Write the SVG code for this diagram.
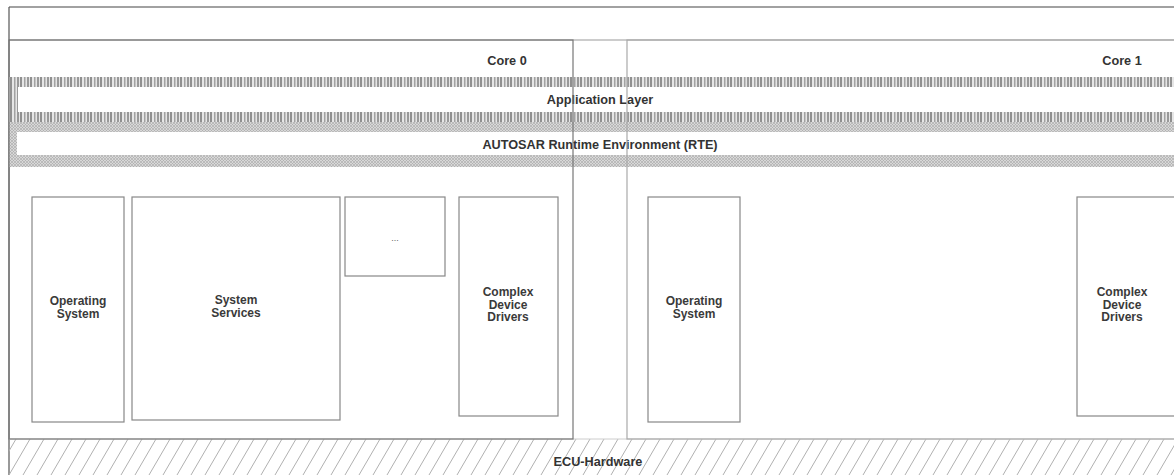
<svg xmlns="http://www.w3.org/2000/svg" width="1174" height="475" viewBox="0 0 1174 475">
<style>
.lbl{font-family:"Liberation Sans",Arial,sans-serif;font-size:12.7px;font-weight:bold;fill:#333;text-anchor:middle}
.bl{font-family:"Liberation Sans",Arial,sans-serif;font-size:12px;font-weight:bold;fill:#3a3a3a;text-anchor:middle}
.box{fill:#fff;stroke:#888;stroke-width:1.2}
</style>
<defs>
<pattern id="vstripe" width="10" height="10" patternUnits="userSpaceOnUse">
<rect width="10" height="10" fill="#e6e6e6"/>
<rect x="0" width="2" height="10" fill="#909090"/>
<rect x="4" width="1.5" height="10" fill="#a2a2a2"/>
<rect x="7" width="2" height="10" fill="#999"/>
</pattern>
<pattern id="cross" width="3" height="3" patternUnits="userSpaceOnUse">
<rect width="3" height="3" fill="#d8d8d8"/>
<path d="M0,3 L3,0 M0,0 L3,3" stroke="#a8a8a8" stroke-width="0.6"/>
</pattern>
<pattern id="hatch" width="14" height="36" patternUnits="userSpaceOnUse" patternTransform="translate(9,439)">
<path d="M-14,36 L7,0 M0,36 L21,0 M14,36 L35,0" stroke="#b0b0b0" stroke-width="1"/>
</pattern>
</defs>

<g id="frame">
<line x1="9" y1="7" x2="1174" y2="7" stroke="#444" stroke-width="1.2"/>
<line x1="9" y1="40" x2="1174" y2="40" stroke="#bbb" stroke-width="1.5"/>
<line x1="9" y1="7" x2="9" y2="475" stroke="#555" stroke-width="1.2"/>
</g>

<g id="application-layer">
<rect x="9" y="77" width="1165" height="45" fill="url(#vstripe)"/>
<rect x="18" y="87" width="1156" height="25" fill="#fff"/>
<text class="lbl" x="600" y="104">Application Layer</text>
</g>

<g id="rte">
<rect x="9" y="122" width="1165" height="45" fill="url(#cross)"/>
<rect x="17" y="132" width="1157" height="23" fill="#fff"/>
<text class="lbl" x="600" y="148.5">AUTOSAR Runtime Environment (RTE)</text>
</g>

<g id="hardware">
<rect x="9" y="439" width="1165" height="36" fill="url(#hatch)"/>
<line x1="9" y1="439" x2="1174" y2="439" stroke="#ccc" stroke-width="1"/>
<text class="lbl" x="598" y="465.5">ECU-Hardware</text>
</g>

<g id="core0">
<rect x="9" y="40" width="564" height="399" fill="none" stroke="#777" stroke-width="1.2"/>
<text class="lbl" x="507" y="65">Core 0</text>
</g>

<g id="core1">
<rect x="627" y="40" width="600" height="399" fill="none" stroke="#aaa" stroke-width="1.2"/>
<text class="lbl" x="1122" y="65">Core 1</text>
</g>

<g id="os0">
<rect class="box" x="32" y="197" width="92" height="225"/>
<text class="bl" x="78" y="305">Operating</text>
<text class="bl" x="78" y="317.5">System</text>
</g>

<g id="sysservices">
<rect class="box" x="132" y="197" width="208" height="223"/>
<text class="bl" x="236" y="304">System</text>
<text class="bl" x="236" y="316.5">Services</text>
</g>

<g id="dots">
<rect class="box" x="345" y="197" width="100" height="79"/>
<text class="bl" x="395" y="241" style="font-weight:normal;fill:#666;font-size:9px">...</text>
</g>

<g id="cdd0">
<rect class="box" x="459" y="197" width="99" height="219"/>
<text class="bl" x="508" y="296">Complex</text>
<text class="bl" x="508" y="308.5">Device</text>
<text class="bl" x="508" y="321">Drivers</text>
</g>

<g id="os1">
<rect class="box" x="648" y="197" width="92" height="225"/>
<text class="bl" x="694" y="305">Operating</text>
<text class="bl" x="694" y="317.5">System</text>
</g>

<g id="cdd1">
<rect class="box" x="1077" y="197" width="110" height="219"/>
<text class="bl" x="1122" y="296">Complex</text>
<text class="bl" x="1122" y="308.5">Device</text>
<text class="bl" x="1122" y="321">Drivers</text>
</g>

<g id="connectors"/>
</svg>
